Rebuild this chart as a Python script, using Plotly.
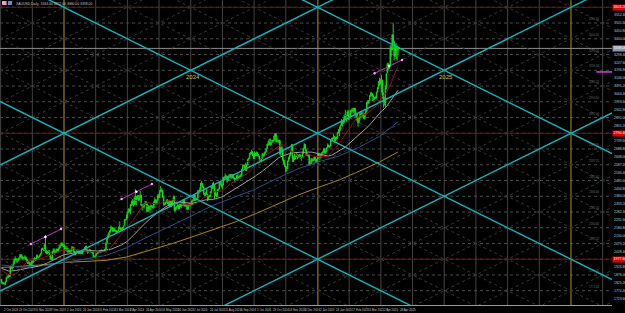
import numpy as np
import pandas as pd
import plotly.graph_objects as go

# ---------------- data (XAUUSD daily) ----------------
pre_closes = [1977, 1970, 1962, 1954, 1965, 1972, 1946, 1959, 1965,
              1944, 1934, 1934, 1943, 1936, 1926, 1915, 1913, 1914, 1907, 1901, 1892, 1889, 1889, 1895, 1899,
              1915, 1917, 1915, 1920, 1937, 1942, 1940,
              1940, 1939, 1926, 1916, 1919, 1919, 1922, 1913, 1908, 1910, 1924, 1934, 1931, 1930, 1920, 1925,
              1916, 1901, 1874, 1864, 1848]

closes = [
    1828, 1822, 1821, 1820, 1833, 1861, 1861, 1874, 1868, 1932, 1919, 1923, 1947, 1974, 1981, 1973, 1970, 1979, 1985, 2006, 1996, 1983,
    1982, 1986, 1992, 1978, 1969, 1950, 1958, 1940, 1946, 1963, 1959, 1981, 1981, 1978, 1998, 1990, 1992, 2002, 2014, 2041, 2044, 2036,
    2072, 2030, 2019, 2025, 2028, 2004, 1982, 1979, 2027, 2035, 2019, 2027, 2040, 2031, 2045, 2053, 2067, 2077, 2065, 2063,
    2059, 2042, 2043, 2045, 2027, 2030, 2024, 2029, 2049, 2055, 2028, 2006, 2023, 2029, 2021, 2029, 2014, 2020, 2018, 2032, 2037, 2039,
    2054, 2039, 2025, 2035, 2035, 2034, 2024, 2020, 1992, 1992, 2004, 2013, 2018, 2025, 2026, 2024, 2035, 2031, 2030, 2034, 2044,
    2083, 2115, 2128, 2148, 2160, 2178, 2182, 2158, 2175, 2162, 2155, 2160, 2157, 2186, 2181, 2165, 2172, 2178, 2194, 2233, 2233,
    2250, 2280, 2300, 2290, 2329, 2339, 2352, 2333, 2372, 2344, 2383, 2383, 2361, 2379, 2392, 2327, 2322, 2316, 2332, 2337, 2335, 2286,
    2320, 2303, 2302, 2323, 2314, 2309, 2346, 2360, 2336, 2358, 2386, 2376, 2415, 2425, 2421, 2379, 2329, 2334, 2350, 2360, 2338, 2343, 2327,
    2350, 2327, 2355, 2376, 2294, 2311, 2316, 2324, 2304, 2333, 2319, 2330, 2329, 2360, 2322, 2334, 2320, 2298, 2327, 2326,
    2332, 2330, 2356, 2356, 2392, 2359, 2364, 2371, 2415, 2411, 2422, 2469, 2459, 2445, 2400, 2396, 2409, 2398, 2364, 2387, 2384, 2411, 2447,
    2446, 2442, 2410, 2390, 2382, 2427, 2431, 2472, 2465, 2447, 2456, 2507, 2503, 2514, 2512, 2484, 2512, 2518, 2524, 2504, 2521, 2503,
    2500, 2493, 2495, 2516, 2497, 2506, 2516, 2512, 2558, 2578, 2582, 2569, 2559, 2587, 2622, 2628, 2657, 2657, 2671, 2658, 2634,
    2662, 2658, 2656, 2653, 2644, 2622, 2608, 2631, 2657, 2649, 2662, 2674, 2692, 2721, 2719, 2749, 2716, 2736, 2747, 2743, 2774, 2788, 2744,
    2736, 2736, 2743, 2659, 2706, 2685, 2619, 2598, 2573, 2565, 2562, 2612, 2632, 2650, 2670, 2715, 2625, 2633, 2636, 2640, 2650,
    2640, 2643, 2650, 2632, 2633, 2660, 2694, 2718, 2681, 2648, 2652, 2646, 2586, 2594, 2622, 2613, 2617, 2634, 2621, 2606, 2624,
    2658, 2640, 2636, 2648, 2662, 2670, 2690, 2663, 2677, 2697, 2715, 2703, 2708, 2745, 2755, 2754, 2770, 2740, 2763, 2760, 2794, 2798,
    2815, 2842, 2867, 2856, 2861, 2908, 2898, 2905, 2928, 2882, 2898, 2935, 2933, 2939, 2936, 2952, 2915, 2916, 2876, 2857,
    2893, 2918, 2920, 2910, 2910, 2888, 2916, 2934, 2988, 2984, 3001, 3034, 3048, 3044, 3023, 3011, 3020, 3019, 3057, 3085, 3123,
    3113, 3134, 3114, 3037, 2982, 2982, 3083, 3175, 3237, 3211, 3230, 3343, 3327, 3424, 3381, 3288, 3348, 3319, 3344, 3338,
]

highs = [
    1850, 1833, 1829, 1826, 1835, 1865, 1866, 1877, 1880, 1933, 1935, 1937, 1963, 1979, 1997, 1984, 1977, 1986, 1990, 2009, 2009, 2007,
    1993, 1993, 2003, 1995, 1980, 1971, 1965, 1960, 1948, 1971, 1971, 1983, 1993, 1985, 2007, 2008, 1995, 2008, 2017, 2048, 2052, 2048,
    2075, 2135, 2036, 2030, 2035, 2037, 2006, 1993, 2031, 2048, 2047, 2033, 2047, 2046, 2049, 2071, 2070, 2084, 2088, 2074,
    2079, 2065, 2052, 2064, 2049, 2040, 2039, 2041, 2062, 2058, 2056, 2031, 2025, 2035, 2033, 2033, 2035, 2023, 2025, 2036, 2043, 2056,
    2065, 2065, 2040, 2039, 2043, 2043, 2037, 2029, 2023, 1998, 2005, 2016, 2023, 2031, 2032, 2035, 2041, 2038, 2037, 2038, 2047,
    2088, 2119, 2141, 2152, 2165, 2195, 2189, 2185, 2178, 2175, 2167, 2164, 2161, 2188, 2222, 2182, 2177, 2185, 2196, 2236, 2235,
    2266, 2283, 2305, 2304, 2330, 2354, 2365, 2354, 2378, 2431, 2385, 2392, 2393, 2385, 2418, 2392, 2333, 2335, 2338, 2353, 2354, 2336,
    2326, 2326, 2320, 2331, 2326, 2318, 2351, 2378, 2364, 2364, 2396, 2398, 2423, 2450, 2434, 2427, 2385, 2340, 2355, 2363, 2364, 2352, 2361,
    2354, 2354, 2357, 2388, 2387, 2314, 2319, 2342, 2326, 2335, 2335, 2335, 2335, 2366, 2368, 2337, 2336, 2320, 2329, 2339,
    2337, 2338, 2364, 2363, 2393, 2392, 2366, 2375, 2424, 2425, 2440, 2470, 2483, 2469, 2446, 2405, 2413, 2431, 2400, 2391, 2393, 2415, 2450,
    2470, 2477, 2458, 2419, 2403, 2430, 2432, 2475, 2479, 2477, 2460, 2509, 2510, 2531, 2520, 2514, 2516, 2526, 2527, 2528, 2526, 2524,
    2505, 2504, 2500, 2523, 2529, 2509, 2519, 2529, 2560, 2586, 2589, 2589, 2600, 2593, 2625, 2632, 2664, 2670, 2685, 2675, 2660,
    2673, 2665, 2673, 2670, 2657, 2645, 2624, 2634, 2661, 2658, 2668, 2677, 2696, 2723, 2740, 2749, 2758, 2742, 2749, 2748, 2775, 2790, 2790,
    2761, 2749, 2750, 2747, 2710, 2710, 2685, 2629, 2618, 2580, 2575, 2614, 2640, 2653, 2675, 2722, 2721, 2642, 2659, 2647, 2665,
    2657, 2652, 2657, 2654, 2646, 2667, 2697, 2726, 2721, 2687, 2664, 2655, 2653, 2612, 2632, 2630, 2620, 2638, 2638, 2626, 2627,
    2660, 2665, 2649, 2660, 2670, 2678, 2697, 2692, 2679, 2700, 2725, 2716, 2711, 2747, 2763, 2763, 2786, 2772, 2766, 2770, 2799, 2817,
    2830, 2845, 2882, 2872, 2886, 2911, 2942, 2909, 2936, 2942, 2905, 2938, 2947, 2955, 2954, 2956, 2953, 2926, 2918, 2882,
    2896, 2928, 2930, 2926, 2930, 2915, 2920, 2940, 2990, 3005, 3004, 3038, 3055, 3057, 3047, 3035, 3025, 3030, 3059, 3087, 3128,
    3149, 3139, 3167, 3136, 3055, 3023, 3100, 3176, 3245, 3245, 3233, 3358, 3357, 3430, 3500, 3386, 3367, 3371, 3352, 3352,
]

lows = [
    1820, 1815, 1815, 1813, 1810, 1833, 1853, 1856, 1865, 1867, 1913, 1910, 1921, 1945, 1969, 1960, 1953, 1962, 1972, 1980, 1991, 1979,
    1970, 1979, 1978, 1975, 1960, 1947, 1944, 1936, 1931, 1937, 1954, 1956, 1973, 1965, 1975, 1987, 1987, 1990, 2001, 2012, 2037, 2031,
    2034, 2015, 2009, 2011, 2017, 1995, 1976, 1973, 1974, 2021, 2015, 2016, 2020, 2028, 2027, 2040, 2050, 2065, 2062, 2058,
    2055, 2031, 2034, 2024, 2017, 2022, 2019, 2013, 2028, 2045, 2023, 2002, 2005, 2020, 2016, 2010, 2011, 2009, 2012, 2010, 2028, 2030,
    2035, 2033, 2014, 2020, 2030, 2021, 2020, 2015, 1990, 1984, 1989, 1996, 2010, 2013, 2019, 2017, 2021, 2025, 2025, 2024, 2030,
    2042, 2076, 2111, 2122, 2142, 2154, 2170, 2150, 2156, 2154, 2151, 2146, 2146, 2151, 2172, 2157, 2161, 2170, 2174, 2191, 2228,
    2229, 2242, 2275, 2281, 2268, 2321, 2325, 2319, 2326, 2330, 2324, 2365, 2355, 2355, 2370, 2320, 2292, 2310, 2305, 2327, 2325, 2285,
    2281, 2295, 2277, 2290, 2307, 2302, 2306, 2340, 2332, 2333, 2354, 2371, 2374, 2410, 2410, 2375, 2325, 2325, 2331, 2341, 2334, 2322, 2320,
    2314, 2315, 2325, 2350, 2286, 2287, 2298, 2304, 2300, 2302, 2311, 2309, 2320, 2328, 2316, 2319, 2314, 2293, 2298, 2319,
    2318, 2319, 2325, 2350, 2353, 2353, 2352, 2360, 2367, 2401, 2410, 2421, 2453, 2436, 2393, 2384, 2384, 2394, 2353, 2364, 2378, 2380, 2406,
    2430, 2433, 2364, 2385, 2380, 2382, 2415, 2428, 2457, 2440, 2431, 2455, 2490, 2500, 2504, 2471, 2485, 2507, 2507, 2498, 2500, 2497,
    2491, 2472, 2487, 2490, 2485, 2492, 2500, 2500, 2510, 2555, 2577, 2562, 2547, 2546, 2584, 2615, 2625, 2652, 2655, 2643, 2624,
    2624, 2642, 2643, 2641, 2635, 2606, 2604, 2603, 2625, 2637, 2643, 2656, 2667, 2688, 2709, 2715, 2708, 2712, 2730, 2729, 2737, 2767, 2730,
    2732, 2731, 2725, 2652, 2644, 2678, 2610, 2589, 2572, 2537, 2545, 2560, 2605, 2622, 2643, 2668, 2605, 2605, 2617, 2623, 2636,
    2622, 2632, 2632, 2625, 2614, 2632, 2657, 2690, 2677, 2643, 2643, 2636, 2583, 2583, 2592, 2605, 2609, 2612, 2617, 2596, 2602,
    2624, 2637, 2615, 2631, 2641, 2657, 2666, 2657, 2659, 2671, 2692, 2700, 2696, 2707, 2738, 2744, 2753, 2730, 2738, 2750, 2755, 2790,
    2772, 2808, 2840, 2834, 2853, 2860, 2880, 2865, 2901, 2877, 2880, 2893, 2920, 2927, 2918, 2930, 2890, 2905, 2870, 2832,
    2858, 2878, 2905, 2894, 2896, 2880, 2880, 2906, 2930, 2977, 2982, 2999, 3026, 3029, 2999, 3000, 3008, 3013, 3015, 3054, 3077,
    3100, 3104, 3054, 3015, 2956, 2970, 2957, 3072, 3175, 3193, 3206, 3228, 3284, 3330, 3367, 3260, 3287, 3268, 3260, 3300,
]

# slow moving averages (bar index, price)
ma_slow_idx = [0, 22, 44, 64, 86, 107, 128, 150, 173, 193, 216, 238, 259, 282, 303, 324, 346, 366, 387, 406]
ma100_vals = [1940, 1926, 1936, 1955, 1979, 2002, 2052, 2123, 2190, 2252, 2324, 2378, 2427, 2499, 2560, 2605, 2645, 2700, 2770, 2865]
ma200_vals = [1924, 1931, 1942, 1957, 1965, 1970, 1992, 2032, 2075, 2117, 2166, 2215, 2268, 2330, 2390, 2440, 2490, 2545, 2605, 2670]

# chart objects
year_bars = [64, 324, 583]                 # first bars of 2024, 2025, 2026
year_names = ["2024", "2025"]
octave_levels = [3603.2, 2790.4, 1977.6]   # red levels
cyan_down_steps = [-4, 0, 4]               # cyan lines falling to the right (quarter-octave steps)
cyan_up_steps = [-12, -8, -4]              # cyan lines rising to the right
trend1_x, trend1_y = [30, 45, 61], [2076, 2121, 2172]
trend2_x, trend2_y = [123, 138, 154], [2366, 2413, 2463]
trend3_x, trend3_y = [382, 397, 410], [3177, 3224, 3263]
pink_level_x, pink_level_y = [609, 625], [3186, 3186]
holidays = ["2023-12-25", "2024-01-01", "2024-12-25", "2025-01-01", "2025-04-18"]

# ---------------- derived ----------------
n = len(closes)
days = pd.bdate_range("2023-10-02", periods=460)
days = days[~days.isin(pd.to_datetime(holidays))][:n]
idx = np.arange(n)
opens = [pre_closes[-1]] + closes[:-1]
hi = [max(h, o, c) for h, o, c in zip(highs, opens, closes)]
lo = [min(l, o, c) for l, o, c in zip(lows, opens, closes)]
ser = pd.Series(pre_closes + closes, dtype=float)
ma20 = ser.rolling(20).mean().to_numpy()[len(pre_closes):]
ma50 = ser.rolling(50).mean().to_numpy()[len(pre_closes):]

X_RANGE = [-1.52, 625.0]
Y_RANGE = [1682.2, 3650.3]
W, H = 625, 313
ML, MR, MT, MB = 0, 13, 0, 8
PW, PH = W - ML - MR, H - MT - MB

X0 = year_bars[0]
P0 = octave_levels[0]
oct_h = octave_levels[0] - octave_levels[1]
oct_w = (year_bars[2] - year_bars[0]) / 2.0
slope = -oct_h / oct_w
step_x = oct_w / 8.0
step_p = oct_h / 8.0
q_step = oct_h / 4.0

fig = go.Figure()

def diag_lines(ms, sign):
    xs, ys = [], []
    for m in ms:
        for xx in X_RANGE:
            xs.append(xx)
            ys.append(P0 + sign * slope * (xx - X0) + q_step * m / 2.0 * 1.0 if False else P0 + sign * slope * (xx - X0) + 2 * step_p * m)
        xs.append(None); ys.append(None)
    return xs, ys

# gray dotted diagonal lattice
gx1, gy1 = diag_lines(range(-11, 10), 1)
gx2, gy2 = diag_lines(range(-19, 3), -1)
fig.add_trace(go.Scatter(x=gx1 + gx2, y=gy1 + gy2, mode="lines",
                         line=dict(color="#383838", width=1, dash="dot"),
                         hoverinfo="skip", showlegend=False))

# moving averages
fig.add_trace(go.Scatter(x=ma_slow_idx, y=ma200_vals, mode="lines",
                         line=dict(color="#a8841c", width=1), hoverinfo="skip", showlegend=False))
fig.add_trace(go.Scatter(x=ma_slow_idx, y=ma100_vals, mode="lines",
                         line=dict(color="#24508e", width=1), hoverinfo="skip", showlegend=False))
fig.add_trace(go.Scatter(x=idx, y=ma50, mode="lines",
                         line=dict(color="#a0a0a0", width=1), hoverinfo="skip", showlegend=False))
fig.add_trace(go.Scatter(x=idx, y=ma20, mode="lines",
                         line=dict(color="#9a1010", width=1), hoverinfo="skip", showlegend=False))

# candles
fig.add_trace(go.Candlestick(
    x=idx, open=opens, high=hi, low=lo, close=closes,
    increasing=dict(line=dict(color="#10dc10", width=1), fillcolor="#000000"),
    decreasing=dict(line=dict(color="#10dc10", width=1), fillcolor="#ffffff"),
    whiskerwidth=0, hoverinfo="skip", showlegend=False))

# cyan lattice
cx1, cy1 = diag_lines(cyan_down_steps, 1)
cx2, cy2 = diag_lines(cyan_up_steps, -1)
fig.add_trace(go.Scatter(x=cx1 + cx2, y=cy1 + cy2, mode="lines",
                         line=dict(color="#12b4bc", width=1.4),
                         hoverinfo="skip", showlegend=False))

# magenta trend lines
for tx, ty in [(trend1_x, trend1_y), (trend2_x, trend2_y), (trend3_x, trend3_y)]:
    fig.add_trace(go.Scatter(x=tx, y=ty, mode="lines+markers",
                             line=dict(color="#b030b8", width=1),
                             marker=dict(color=["#ff9cff", "#ffffff", "#ff9cff"], size=2.5),
                             hoverinfo="skip", showlegend=False))
fig.add_trace(go.Scatter(x=pink_level_x, y=pink_level_y, mode="lines",
                         line=dict(color="#e040e0", width=1.5),
                         hoverinfo="skip", showlegend=False))

shapes = []
for k in range(-2, 18):
    xv = X0 + step_x * k
    shapes.append(dict(type="line", xref="x", yref="paper", x0=xv, x1=xv, y0=0, y1=1,
                       line=dict(color="#444444", width=1), layer="below"))
for j in range(0, 19):
    pv = P0 - step_p * j
    shapes.append(dict(type="line", xref="paper", yref="y", x0=0, x1=1, y0=pv, y1=pv,
                       line=dict(color="#4a4a4a", width=1, dash="dot"), layer="below"))
for pv in octave_levels:
    shapes.append(dict(type="line", xref="paper", yref="y", x0=0, x1=1, y0=pv, y1=pv,
                       line=dict(color="#7c0a0a", width=1), layer="below"))
for xv in year_bars:
    shapes.append(dict(type="line", xref="x", yref="paper", x0=xv, x1=xv, y0=0, y1=1,
                       line=dict(color="#8a7400", width=1), layer="below"))
last = closes[-1]
shapes.append(dict(type="line", xref="paper", yref="y", x0=0, x1=1, y0=last, y1=last,
                   line=dict(color="#8c8c8c", width=1), layer="below"))
shapes.append(dict(type="rect", xref="paper", yref="paper", x0=2/PW, x1=6.5/PW, y0=1-5/PH, y1=1-1/PH,
                   fillcolor="#d9a8c8", line=dict(width=0)))
shapes.append(dict(type="rect", xref="paper", yref="paper", x0=8/PW, x1=12/PW, y0=1-5/PH, y1=1-1/PH,
                   fillcolor="#6a88c8", line=dict(width=0)))

annotations = []
SMALL = "Liberation Sans Narrow, Liberation Sans, Arial"
for yi, name in enumerate(year_names):
    annotations.append(dict(x=(year_bars[yi] + year_bars[yi + 1]) / 2.0,
                            y=(octave_levels[0] + octave_levels[1]) / 2.0,
                            xref="x", yref="y", text=name, showarrow=False,
                            xanchor="center", yanchor="middle", xshift=2, yshift=-7,
                            font=dict(family="Liberation Sans", size=6, color="#cccc10")))
for pv in octave_levels:
    annotations.append(dict(x=1, y=pv, xref="paper", yref="y", text=f"{pv:.2f}", showarrow=False,
                            xanchor="left", yanchor="middle", xshift=0, bgcolor="#e00000",
                            borderpad=0.4, font=dict(family=SMALL, size=3.6, color="#ffffff")))
annotations.append(dict(x=1, y=last, xref="paper", yref="y", text=f"{last:.2f}", showarrow=False,
                        xanchor="left", yanchor="middle", bgcolor="#8a96a8", borderpad=0.4,
                        font=dict(family=SMALL, size=3.6, color="#ffffff")))
for j in range(1, 19):
    if j % 8 == 0:
        continue
    pv = P0 - step_p * j
    annotations.append(dict(x=602/PW, y=pv, xref="paper", yref="y", text=f"{pv:.2f}", showarrow=False,
                            xanchor="right", yanchor="bottom",
                            font=dict(family=SMALL, size=2.8, color="#6a6a6a")))
# date labels along the bottom
date_pos = [X0 - 4 * step_x + 0.5 * step_x * q for q in range(0, 60)]
date_pos = [p for p in date_pos if -1 <= p <= n - 1]
date_labels = [f"{days[int(round(max(p, 0)))].day} {days[int(round(max(p, 0)))].strftime('%b %Y')}" for p in date_pos]
for p, t in zip(date_pos, date_labels):
    annotations.append(dict(x=p, y=0, xref="x", yref="paper", text=t, showarrow=False,
                            xanchor="left", yanchor="top", yshift=-0.5, xshift=1,
                            font=dict(family=SMALL, size=2.9, color="#c8c8c8")))
annotations.append(dict(x=14/PW, y=1, xref="paper", yref="paper",
                        text=f"XAUUSD,Daily  {opens[-1]:.2f} {hi[-1]:.2f} {lo[-1]:.2f} {last:.2f}",
                        showarrow=False, xanchor="left", yanchor="top",
                        font=dict(family=SMALL, size=3.4, color="#c0c0c0")))

tick_vals, tick_text = [], []
for q in range(1, 38):
    pv = P0 - step_p / 2 * q
    if q % 16 == 0 or abs(pv - last) < 25:
        continue
    tick_vals.append(pv)
    tick_text.append(f"{pv:.2f}")

fig.update_layout(
    width=W, height=H,
    margin=dict(l=ML, r=MR, t=MT, b=MB, pad=0),
    paper_bgcolor="#000000", plot_bgcolor="#000000",
    showlegend=False,
    shapes=shapes, annotations=annotations,
    xaxis=dict(range=X_RANGE, showgrid=False, zeroline=False, showticklabels=False,
               showline=True, linecolor="#9a9a9a", linewidth=1, rangeslider=dict(visible=False),
               fixedrange=True),
    yaxis=dict(range=Y_RANGE, side="right", showgrid=False, zeroline=False,
               tickvals=tick_vals, ticktext=tick_text, ticks="",
               tickfont=dict(family=SMALL, size=3.4, color="#c8c8c8"),
               showline=False, fixedrange=True, ticklabelstandoff=1),
)

fig.write_html("out.html")
